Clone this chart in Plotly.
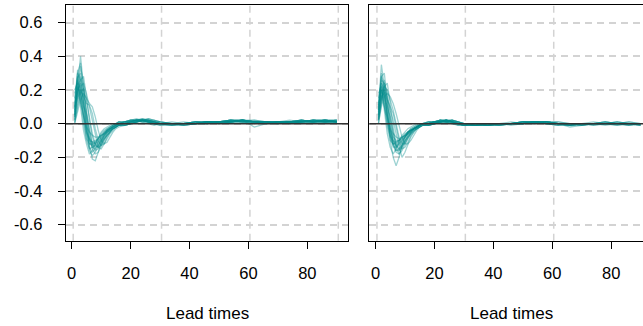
import plotly.graph_objects as go

# ---------------- data ----------------
lead_x = [1, 2, 3, 4, 5, 6, 7, 8, 9, 10, 11, 12, 13, 14, 15, 16,
          18, 20, 22, 24, 26, 28, 30, 34, 38, 42, 46, 50, 54, 58, 62, 66, 70, 74, 78, 82, 86, 90]

x_tick_vals = [0, 20, 40, 60, 80]
y_tick_vals = [-0.6, -0.4, -0.2, 0.0, 0.2, 0.4, 0.6]
y_tick_text = ["-0.6", "-0.4", "-0.2", "0.0", "0.2", "0.4", "0.6"]
x_title = "Lead times"

left_01 = [0.05, 0.22, 0.40, 0.22, 0.02, -0.13, -0.21, -0.22, -0.17, -0.11, -0.07, -0.04, -0.02, -0.01, 0.00, 0.00,
           0.01, 0.02, 0.02, 0.02, 0.01, 0.00, 0.00, 0.00, -0.01, 0.00, 0.01, 0.01, 0.02, 0.02, 0.01, 0.01, 0.01, 0.01, 0.02, 0.01, 0.02, 0.01]
left_02 = [0.10, 0.30, 0.26, 0.12, -0.03, -0.14, -0.17, -0.15, -0.11, -0.08, -0.05, -0.03, -0.02, -0.01, 0.00, 0.01,
           0.00, 0.01, 0.02, 0.03, 0.02, 0.01, 0.00, 0.00, 0.00, 0.01, 0.00, 0.01, 0.01, 0.02, 0.01, 0.00, 0.01, 0.01, 0.01, 0.02, 0.02, 0.01]
left_03 = [0.02, 0.18, 0.28, 0.20, 0.08, -0.04, -0.12, -0.16, -0.15, -0.12, -0.08, -0.05, -0.03, -0.02, -0.01, 0.00,
           0.00, 0.01, 0.01, 0.02, 0.02, 0.01, 0.01, 0.00, 0.00, 0.00, 0.01, 0.01, 0.01, 0.02, 0.02, 0.01, 0.00, 0.01, 0.02, 0.01, 0.01, 0.02]
left_04 = [0.08, 0.25, 0.20, 0.05, -0.06, -0.12, -0.13, -0.11, -0.09, -0.07, -0.05, -0.04, -0.03, -0.02, -0.01, 0.00,
           0.00, 0.00, 0.01, 0.02, 0.01, 0.00, -0.01, -0.01, 0.00, 0.00, 0.01, 0.00, 0.01, 0.01, 0.01, 0.01, 0.01, 0.00, 0.01, 0.01, 0.02, 0.01]
left_05 = [0.00, 0.12, 0.22, 0.24, 0.18, 0.10, 0.02, -0.08, -0.14, -0.15, -0.12, -0.08, -0.05, -0.03, -0.02, -0.01,
           -0.01, 0.00, 0.01, 0.02, 0.03, 0.02, 0.01, 0.00, -0.01, 0.00, 0.00, 0.01, 0.02, 0.01, 0.00, 0.01, 0.01, 0.01, 0.01, 0.02, 0.01, 0.01]
left_06 = [0.15, 0.28, 0.18, 0.02, -0.10, -0.15, -0.14, -0.12, -0.10, -0.08, -0.06, -0.04, -0.03, -0.02, -0.01, 0.00,
           0.01, 0.01, 0.02, 0.01, 0.01, 0.00, 0.00, 0.01, 0.00, 0.00, 0.01, 0.01, 0.02, 0.02, -0.02, 0.00, 0.01, 0.01, 0.02, 0.01, 0.01, 0.01]
left_07 = [0.05, 0.20, 0.24, 0.14, 0.02, -0.08, -0.15, -0.18, -0.17, -0.13, -0.09, -0.06, -0.04, -0.02, -0.01, 0.00,
           0.00, 0.01, 0.02, 0.02, 0.01, 0.00, -0.01, 0.00, 0.00, 0.01, 0.01, 0.00, 0.01, 0.02, 0.01, 0.01, 0.00, 0.01, 0.01, 0.02, 0.02, 0.02]
left_08 = [0.12, 0.32, 0.22, 0.08, -0.04, -0.10, -0.11, -0.10, -0.09, -0.07, -0.06, -0.04, -0.03, -0.02, -0.01, 0.01,
           0.01, 0.02, 0.03, 0.02, 0.01, 0.01, 0.00, 0.00, 0.00, 0.00, 0.01, 0.01, 0.01, 0.01, 0.01, 0.00, 0.01, 0.02, 0.01, 0.01, 0.01, 0.01]
left_09 = [0.03, 0.15, 0.20, 0.16, 0.12, 0.11, 0.06, -0.03, -0.10, -0.13, -0.12, -0.09, -0.06, -0.04, -0.02, -0.01,
           -0.01, 0.00, 0.01, 0.01, 0.02, 0.02, 0.01, 0.00, 0.00, 0.01, 0.00, 0.01, 0.01, 0.02, 0.01, 0.01, 0.01, 0.00, 0.01, 0.01, 0.02, 0.01]
left_10 = [0.07, 0.27, 0.30, 0.12, -0.05, -0.16, -0.19, -0.17, -0.13, -0.09, -0.06, -0.04, -0.03, -0.01, 0.00, 0.01,
           0.01, 0.02, 0.02, 0.01, 0.00, -0.01, 0.00, 0.00, 0.00, 0.00, 0.01, 0.01, 0.02, 0.01, 0.01, 0.00, 0.01, 0.01, 0.01, 0.02, 0.01, 0.02]
left_11 = [0.10, 0.22, 0.15, 0.04, -0.05, -0.09, -0.11, -0.12, -0.11, -0.09, -0.07, -0.05, -0.03, -0.02, -0.01, 0.00,
           0.00, 0.01, 0.02, 0.02, 0.01, 0.00, 0.00, -0.01, 0.00, 0.01, 0.01, 0.01, 0.01, 0.02, 0.01, 0.01, 0.01, 0.01, 0.00, 0.01, 0.01, 0.01]
left_12 = [0.01, 0.10, 0.18, 0.21, 0.14, 0.04, -0.06, -0.12, -0.14, -0.13, -0.10, -0.07, -0.05, -0.03, -0.02, -0.01,
           -0.01, 0.00, 0.01, 0.02, 0.02, 0.01, 0.00, 0.00, 0.01, 0.00, 0.00, 0.01, 0.02, 0.02, 0.01, 0.00, 0.00, 0.01, 0.02, 0.01, 0.02, 0.02]
left_13 = [0.18, 0.26, 0.14, 0.00, -0.09, -0.12, -0.12, -0.11, -0.09, -0.06, -0.04, -0.03, -0.02, -0.01, 0.00, 0.00,
           0.01, 0.01, 0.02, 0.02, 0.01, 0.01, 0.00, 0.00, 0.00, 0.01, 0.01, 0.00, 0.01, 0.01, 0.02, 0.01, 0.01, 0.01, 0.01, 0.01, 0.01, 0.01]
left_14 = [0.04, 0.20, 0.34, 0.24, 0.06, -0.07, -0.14, -0.15, -0.13, -0.10, -0.07, -0.05, -0.04, -0.02, -0.01, 0.00,
           0.01, 0.02, 0.02, 0.03, 0.02, 0.01, 0.00, -0.01, -0.01, 0.00, 0.01, 0.01, 0.01, 0.02, 0.01, 0.01, 0.00, 0.01, 0.01, 0.02, 0.02, 0.01]
left_15 = [0.00, 0.08, 0.14, 0.18, 0.15, 0.12, 0.10, 0.04, -0.04, -0.10, -0.12, -0.11, -0.08, -0.05, -0.03, -0.02,
           -0.01, 0.00, 0.01, 0.02, 0.02, 0.01, 0.00, 0.00, 0.00, 0.01, 0.01, 0.01, 0.02, 0.01, 0.01, 0.01, 0.00, 0.01, 0.01, 0.01, 0.02, 0.01]
left_16 = [0.20, 0.24, 0.10, -0.04, -0.12, -0.18, -0.16, -0.12, -0.08, -0.05, -0.03, -0.02, -0.01, 0.00, 0.00, 0.01,
           0.01, 0.02, 0.02, 0.01, 0.01, 0.00, 0.00, 0.00, 0.00, 0.00, 0.01, 0.01, 0.01, 0.02, 0.00, 0.01, 0.01, 0.01, 0.02, 0.01, 0.01, 0.02]
left_17 = [0.06, 0.30, 0.36, 0.16, -0.02, -0.10, -0.14, -0.13, -0.12, -0.10, -0.08, -0.06, -0.04, -0.03, -0.02, -0.01,
           0.00, 0.01, 0.02, 0.02, 0.02, 0.01, 0.00, 0.00, -0.01, 0.00, 0.00, 0.01, 0.01, 0.02, 0.01, 0.01, 0.01, 0.01, 0.01, 0.02, 0.01, 0.01]
left_18 = [0.02, 0.16, 0.26, 0.28, 0.16, 0.02, -0.08, -0.13, -0.14, -0.12, -0.09, -0.07, -0.05, -0.03, -0.02, -0.01,
           -0.01, 0.00, 0.01, 0.02, 0.03, 0.02, 0.01, 0.00, 0.00, 0.00, 0.01, 0.01, 0.01, 0.01, 0.01, 0.01, 0.01, 0.00, 0.01, 0.02, 0.01, 0.01]
left_19 = [0.09, 0.19, 0.12, 0.04, -0.02, -0.05, -0.07, -0.08, -0.08, -0.07, -0.06, -0.05, -0.04, -0.03, -0.02, -0.01,
           0.00, 0.01, 0.01, 0.02, 0.01, 0.01, 0.00, 0.00, 0.00, 0.01, 0.01, 0.01, 0.01, 0.02, 0.01, 0.00, 0.01, 0.01, 0.01, 0.01, 0.02, 0.01]
left_20 = [0.04, 0.22, 0.18, 0.10, 0.06, -0.04, -0.12, -0.14, -0.13, -0.11, -0.09, -0.07, -0.05, -0.03, -0.02, -0.01,
           0.00, 0.01, 0.02, 0.02, 0.01, 0.00, 0.00, -0.01, 0.00, 0.00, 0.01, 0.01, 0.02, 0.01, 0.01, 0.01, 0.00, 0.01, 0.02, 0.01, 0.01, 0.01]

right_01 = [0.08, 0.35, 0.22, 0.05, -0.10, -0.20, -0.25, -0.20, -0.13, -0.08, -0.05, -0.03, -0.02, -0.01, 0.00, 0.00,
            0.01, 0.01, 0.02, 0.02, 0.01, 0.00, -0.01, -0.01, -0.01, 0.00, 0.00, 0.00, 0.01, 0.01, 0.00, -0.01, 0.00, 0.00, 0.00, -0.01, 0.00, -0.01]
right_02 = [0.05, 0.26, 0.24, 0.12, -0.02, -0.12, -0.16, -0.15, -0.12, -0.08, -0.05, -0.03, -0.02, -0.01, -0.01, 0.00,
            0.00, 0.01, 0.01, 0.02, 0.01, 0.00, 0.00, -0.01, -0.01, -0.01, 0.00, 0.00, 0.01, 0.01, 0.00, -0.01, -0.01, 0.00, 0.01, 0.00, -0.01, 0.00]
right_03 = [0.12, 0.28, 0.16, 0.02, -0.08, -0.12, -0.12, -0.11, -0.09, -0.07, -0.05, -0.04, -0.03, -0.02, -0.01, 0.00,
            0.01, 0.01, 0.02, 0.01, 0.00, -0.01, -0.01, -0.01, 0.00, 0.00, 0.00, 0.01, 0.01, 0.00, 0.00, -0.02, -0.01, 0.00, 0.00, 0.00, 0.00, 0.00]
right_04 = [0.02, 0.15, 0.22, 0.20, 0.14, 0.08, 0.00, -0.08, -0.12, -0.12, -0.09, -0.06, -0.04, -0.03, -0.02, -0.01,
            -0.01, 0.00, 0.01, 0.02, 0.02, 0.01, 0.00, -0.01, -0.01, 0.00, 0.00, 0.00, 0.01, 0.01, 0.01, 0.00, 0.00, -0.01, 0.00, 0.01, 0.00, 0.00]
right_05 = [0.10, 0.22, 0.18, 0.06, -0.06, -0.13, -0.17, -0.18, -0.14, -0.10, -0.07, -0.05, -0.03, -0.02, -0.01, 0.00,
            0.00, 0.01, 0.02, 0.01, 0.01, 0.00, -0.01, 0.00, -0.01, -0.01, 0.00, 0.01, 0.01, 0.00, -0.01, -0.01, 0.00, 0.00, 0.01, 0.00, 0.00, -0.01]
right_06 = [0.04, 0.18, 0.26, 0.14, 0.00, -0.10, -0.14, -0.13, -0.11, -0.08, -0.06, -0.04, -0.03, -0.02, -0.01, 0.00,
            0.00, 0.01, 0.01, 0.02, 0.01, 0.00, 0.00, 0.00, -0.01, 0.00, 0.00, 0.00, 0.01, 0.01, 0.00, 0.00, -0.01, 0.00, 0.00, 0.00, -0.01, 0.00]
right_07 = [0.15, 0.24, 0.12, -0.02, -0.10, -0.12, -0.11, -0.10, -0.08, -0.06, -0.05, -0.04, -0.03, -0.02, -0.01, 0.00,
            0.01, 0.01, 0.01, 0.01, 0.00, 0.00, -0.01, -0.01, 0.00, 0.00, 0.01, 0.00, 0.01, 0.00, 0.00, -0.01, 0.00, 0.01, 0.00, 0.00, 0.00, 0.00]
right_08 = [0.00, 0.12, 0.20, 0.16, 0.08, 0.02, -0.06, -0.14, -0.20, -0.17, -0.12, -0.08, -0.05, -0.03, -0.02, -0.01,
            -0.01, 0.00, 0.01, 0.01, 0.02, 0.01, 0.00, 0.00, -0.01, -0.01, 0.00, 0.01, 0.01, 0.01, 0.00, 0.00, 0.00, 0.00, -0.01, 0.00, 0.01, 0.00]
right_09 = [0.07, 0.24, 0.20, 0.08, -0.04, -0.10, -0.13, -0.12, -0.10, -0.08, -0.06, -0.05, -0.03, -0.02, -0.01, 0.00,
            0.00, 0.01, 0.02, 0.02, 0.01, -0.01, -0.01, 0.00, 0.00, 0.00, -0.01, 0.00, 0.00, 0.01, 0.00, -0.01, 0.00, 0.00, 0.00, 0.01, 0.00, 0.00]
right_10 = [0.03, 0.16, 0.18, 0.14, 0.10, 0.06, -0.02, -0.10, -0.15, -0.14, -0.11, -0.07, -0.05, -0.03, -0.02, -0.01,
            -0.01, 0.00, 0.01, 0.02, 0.02, 0.01, 0.00, -0.01, 0.00, 0.00, 0.00, 0.01, 0.01, 0.00, 0.00, 0.00, -0.01, 0.00, 0.00, 0.00, 0.00, -0.01]
right_11 = [0.09, 0.30, 0.20, 0.04, -0.07, -0.14, -0.14, -0.12, -0.10, -0.08, -0.06, -0.04, -0.03, -0.02, -0.01, 0.00,
            0.00, 0.01, 0.01, 0.02, 0.01, 0.00, -0.01, -0.01, -0.01, 0.00, 0.00, 0.01, 0.01, 0.01, 0.00, -0.01, 0.00, 0.00, 0.01, 0.00, 0.00, 0.00]
right_12 = [0.06, 0.20, 0.14, 0.04, -0.04, -0.08, -0.10, -0.10, -0.09, -0.07, -0.05, -0.04, -0.03, -0.02, -0.01, 0.00,
            0.00, 0.00, 0.01, 0.01, 0.01, 0.00, 0.00, 0.00, 0.00, -0.01, 0.00, 0.00, 0.01, 0.00, -0.01, 0.00, 0.00, 0.00, 0.00, 0.00, 0.01, 0.00]
right_13 = [0.02, 0.14, 0.24, 0.18, 0.06, -0.06, -0.14, -0.18, -0.16, -0.12, -0.08, -0.05, -0.03, -0.02, -0.01, 0.00,
            -0.01, 0.00, 0.01, 0.01, 0.02, 0.01, 0.00, 0.00, -0.01, 0.00, 0.00, 0.00, 0.01, 0.01, 0.01, 0.00, 0.00, -0.01, 0.00, 0.00, 0.00, 0.00]
right_14 = [0.11, 0.20, 0.10, 0.00, -0.07, -0.10, -0.11, -0.10, -0.08, -0.07, -0.05, -0.04, -0.03, -0.02, -0.01, 0.00,
            0.00, 0.01, 0.01, 0.01, 0.01, 0.00, -0.01, -0.01, 0.00, 0.00, 0.00, 0.01, 0.00, 0.01, 0.00, 0.00, 0.00, 0.00, 0.00, -0.01, 0.00, 0.00]
right_15 = [0.00, 0.10, 0.16, 0.18, 0.16, 0.12, 0.06, -0.02, -0.08, -0.12, -0.12, -0.10, -0.07, -0.04, -0.02, -0.01,
            -0.01, 0.00, 0.01, 0.01, 0.02, 0.01, 0.00, -0.01, 0.00, 0.00, 0.00, 0.01, 0.01, 0.00, 0.00, -0.01, 0.00, 0.00, 0.00, 0.00, 0.00, 0.00]
right_16 = [0.18, 0.22, 0.08, -0.06, -0.14, -0.18, -0.15, -0.10, -0.07, -0.05, -0.03, -0.02, -0.01, 0.00, 0.00, 0.00,
            0.01, 0.01, 0.02, 0.01, 0.00, 0.00, -0.01, 0.00, -0.01, 0.00, 0.00, 0.00, 0.01, 0.01, 0.00, 0.00, 0.00, 0.00, 0.00, 0.00, -0.01, 0.00]
right_17 = [0.05, 0.28, 0.30, 0.12, -0.04, -0.12, -0.16, -0.16, -0.13, -0.10, -0.07, -0.05, -0.03, -0.02, -0.01, 0.00,
            0.00, 0.01, 0.02, 0.02, 0.01, 0.00, -0.01, -0.01, 0.00, -0.01, 0.00, 0.00, 0.01, 0.01, 0.00, -0.01, 0.00, 0.00, 0.01, 0.00, 0.00, 0.00]
right_18 = [0.02, 0.14, 0.22, 0.24, 0.12, -0.02, -0.12, -0.16, -0.14, -0.11, -0.08, -0.06, -0.04, -0.03, -0.02, -0.01,
            -0.01, 0.00, 0.01, 0.02, 0.01, 0.01, 0.00, 0.00, -0.01, 0.00, 0.00, 0.01, 0.01, 0.01, 0.00, 0.00, -0.01, 0.00, 0.00, 0.00, 0.00, -0.01]
right_19 = [0.08, 0.17, 0.10, 0.03, -0.03, -0.06, -0.08, -0.09, -0.08, -0.07, -0.06, -0.04, -0.03, -0.02, -0.01, 0.00,
            0.00, 0.00, 0.01, 0.01, 0.01, 0.00, 0.00, -0.01, 0.00, 0.00, 0.00, 0.00, 0.01, 0.00, 0.00, 0.00, 0.00, 0.00, 0.00, 0.00, 0.00, 0.00]
right_20 = [0.03, 0.20, 0.16, 0.10, 0.04, -0.05, -0.13, -0.15, -0.13, -0.10, -0.08, -0.06, -0.04, -0.03, -0.02, -0.01,
            0.00, 0.01, 0.01, 0.02, 0.01, 0.00, 0.00, -0.01, -0.01, 0.00, 0.00, 0.01, 0.01, 0.00, -0.01, 0.00, 0.00, 0.00, 0.00, 0.01, 0.00, 0.00]

left_series = [left_01, left_02, left_03, left_04, left_05, left_06, left_07, left_08, left_09, left_10,
               left_11, left_12, left_13, left_14, left_15, left_16, left_17, left_18, left_19, left_20]
right_series = [right_01, right_02, right_03, right_04, right_05, right_06, right_07, right_08, right_09, right_10,
                right_11, right_12, right_13, right_14, right_15, right_16, right_17, right_18, right_19, right_20]

# ---------------- style ----------------
LINE_COLOR = "rgba(0,139,139,0.38)"
GRID_COLOR = "#d3d3d3"
FONT = "Liberation Sans, Arial, sans-serif"
FS = 16.5
FS_TITLE = 17

fig = go.Figure()
for s in left_series:
    fig.add_trace(go.Scatter(x=lead_x, y=s, mode="lines", xaxis="x", yaxis="y",
                             line=dict(color=LINE_COLOR, width=1.3), showlegend=False,
                             hoverinfo="skip"))
for s in right_series:
    fig.add_trace(go.Scatter(x=lead_x, y=s, mode="lines", xaxis="x2", yaxis="y2",
                             line=dict(color=LINE_COLOR, width=1.3), showlegend=False,
                             hoverinfo="skip"))

W, H = 643, 326
y_dom = [(H - 240.7) / H, (H - 4.7) / H]
y_rng = [-0.695, 0.706]

common_x = dict(tickmode="array", tickvals=x_tick_vals, ticks="outside", ticklen=7,
                tickwidth=1.2, tickcolor="black", showgrid=False, zeroline=False,
                showline=True, linecolor="black", linewidth=1.3, mirror=True,
                tickfont=dict(family=FONT, size=FS, color="black"),
                ticklabelstandoff=10)
common_y = dict(range=y_rng, domain=y_dom, tickmode="array", tickvals=y_tick_vals,
                ticktext=y_tick_text, showgrid=True, gridcolor=GRID_COLOR,
                gridwidth=1.5, griddash="7px,5px", zeroline=False,
                showline=True, linecolor="black", linewidth=1.3,
                tickfont=dict(family=FONT, size=FS, color="black"))

fig.update_layout(
    width=W, height=H, margin=dict(l=0, r=0, t=0, b=0, autoexpand=False),
    paper_bgcolor="white", plot_bgcolor="white",
    xaxis=dict(domain=[66 / W, 348.3 / W], range=[-1.94, 93.9], anchor="y", **common_x),
    xaxis2=dict(domain=[369.3 / W, 1.0], range=[-2.1, 90.8], anchor="y2", **common_x),
    yaxis=dict(anchor="x", mirror=True, ticks="outside", ticklen=7, tickwidth=1.2,
               tickcolor="black", ticklabelstandoff=12, **common_y),
    yaxis2=dict(anchor="x2", mirror=False, ticks="", showticklabels=False, **common_y),
)

shapes = []
for gx in [0.5, 30.5, 60.5, 90.5]:
    shapes.append(dict(type="line", xref="x", yref="y domain", x0=gx, x1=gx, y0=0, y1=1,
                       line=dict(color=GRID_COLOR, width=1.5, dash="7px,5px"), layer="below"))
for gx in [0.5, 30.5, 60.5]:
    shapes.append(dict(type="line", xref="x2", yref="y2 domain", x0=gx, x1=gx, y0=0, y1=1,
                       line=dict(color=GRID_COLOR, width=1.5, dash="7px,5px"), layer="below"))
shapes.append(dict(type="line", xref="x domain", yref="y", x0=0, x1=1, y0=0, y1=0,
                   line=dict(color="#333333", width=1.5), layer="above"))
shapes.append(dict(type="line", xref="x2 domain", yref="y2", x0=0, x1=1, y0=0, y1=0,
                   line=dict(color="#333333", width=1.5), layer="above"))
fig.update_layout(shapes=shapes)

fig.add_annotation(text=x_title, xref="paper", yref="paper", x=207 / W, y=(H - 313) / H,
                   xanchor="center", yanchor="middle", showarrow=False,
                   font=dict(family=FONT, size=FS_TITLE, color="black"))
fig.add_annotation(text=x_title, xref="paper", yref="paper", x=511 / W, y=(H - 313) / H,
                   xanchor="center", yanchor="middle", showarrow=False,
                   font=dict(family=FONT, size=FS_TITLE, color="black"))

fig.write_html("out.html", config={"displayModeBar": False},
               post_script="document.body.style.margin='0';")
